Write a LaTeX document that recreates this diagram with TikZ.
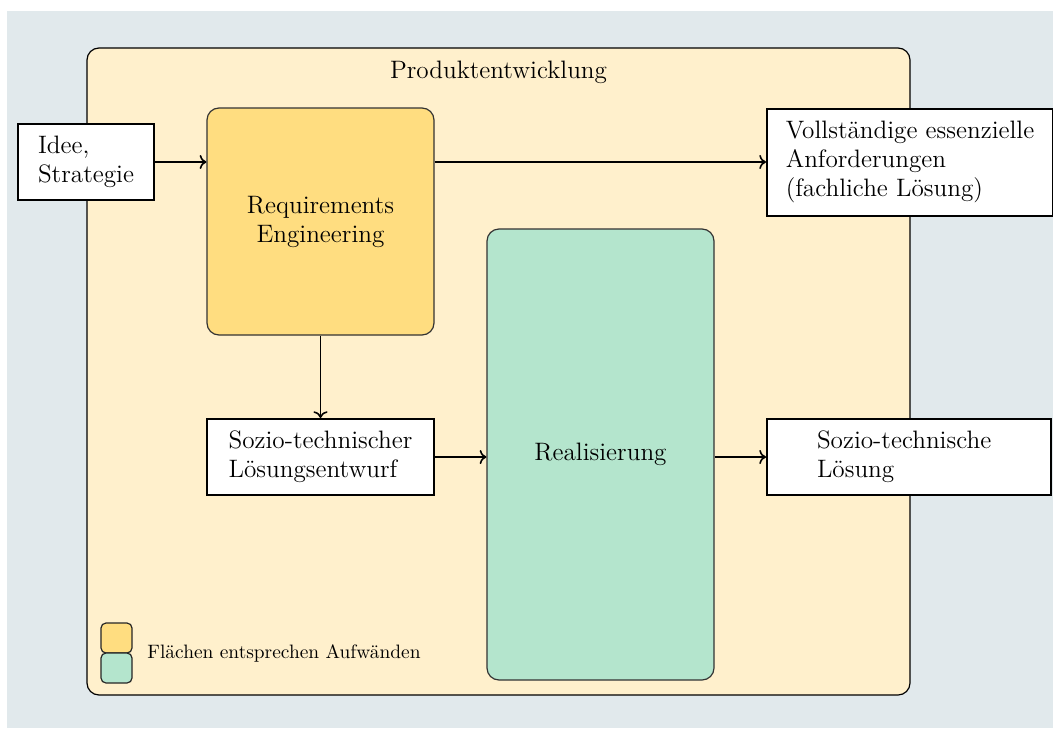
\documentclass[tikz,border=0pt]{standalone}
\usetikzlibrary{arrows.meta}
\definecolor{bggray}{RGB}{225,233,236}
\definecolor{panel}{RGB}{255,240,204}
\definecolor{reyellow}{RGB}{255,221,128}
\definecolor{regreen}{RGB}{180,229,205}
\begin{document}
\begin{tikzpicture}[x=0.5pt,y=-0.5pt,
  txt/.style={font=\fontsize{12.6}{14.5}\selectfont},
  whitebox/.style={txt,draw=black,line width=1pt,fill=white,align=left,inner sep=0pt},
  phase/.style={txt,draw=black!80,line width=0.6pt,rounded corners=6pt,align=center,inner sep=0pt},
  legbox/.style={draw=black!85,line width=0.6pt,rounded corners=2.5pt,minimum width=15.5pt,minimum height=15pt,inner sep=0pt},
  conn/.style={->,line width=0.8pt}]
\useasboundingbox (0,0) rectangle (1053,728);
\fill[bggray] (7,11) rectangle (1053,728);
\draw[fill=panel,line width=0.6pt,rounded corners=6pt] (87,48) rectangle (910,695);
\node[txt,inner sep=0pt] (title) at (498.5,72) {Produktentwicklung};
\node[phase,fill=reyellow,minimum width=113.5pt,minimum height=113.5pt] (re) at (320.5,221.5) {Requirements\\Engineering};
\node[phase,fill=regreen,minimum width=113.5pt,minimum height=225.5pt] (real) at (600.5,454.5) {Realisierung};
\node[whitebox,minimum width=68pt,minimum height=38pt] (idee) at (86,162) {Idee,\\Strategie};
\node[whitebox,minimum width=143pt,minimum height=53.5pt] (voll) at (910,162) {Vollständige essenzielle\\Anforderungen\\(fachliche Lösung)};
\node[whitebox,minimum width=113.5pt,minimum height=38pt] (sozio) at (320.5,457) {Sozio-technischer\\Lösungsentwurf};
\node[whitebox,minimum width=142pt,minimum height=38pt,text width=92pt] (loes) at (909,457) {Sozio-technische\\Lösung};
\draw[conn] (idee.east) -- (idee.east -| re.west);
\draw[conn] (re.east |- voll.west) -- (voll.west);
\draw[conn] (re.south) -- (sozio.north);
\draw[conn] (sozio.east) -- (sozio.east -| real.west);
\draw[conn] (real.east |- loes.west) -- (loes.west);
\node[legbox,fill=reyellow] (ly) at (116.5,638) {};
\node[legbox,fill=regreen] (lg) at (116.5,668) {};
\node[anchor=west,inner sep=0pt,font=\fontsize{9.7}{11}\selectfont] (legtxt) at (147,653) {Flächen entsprechen Aufwänden};
\end{tikzpicture}
\end{document}
